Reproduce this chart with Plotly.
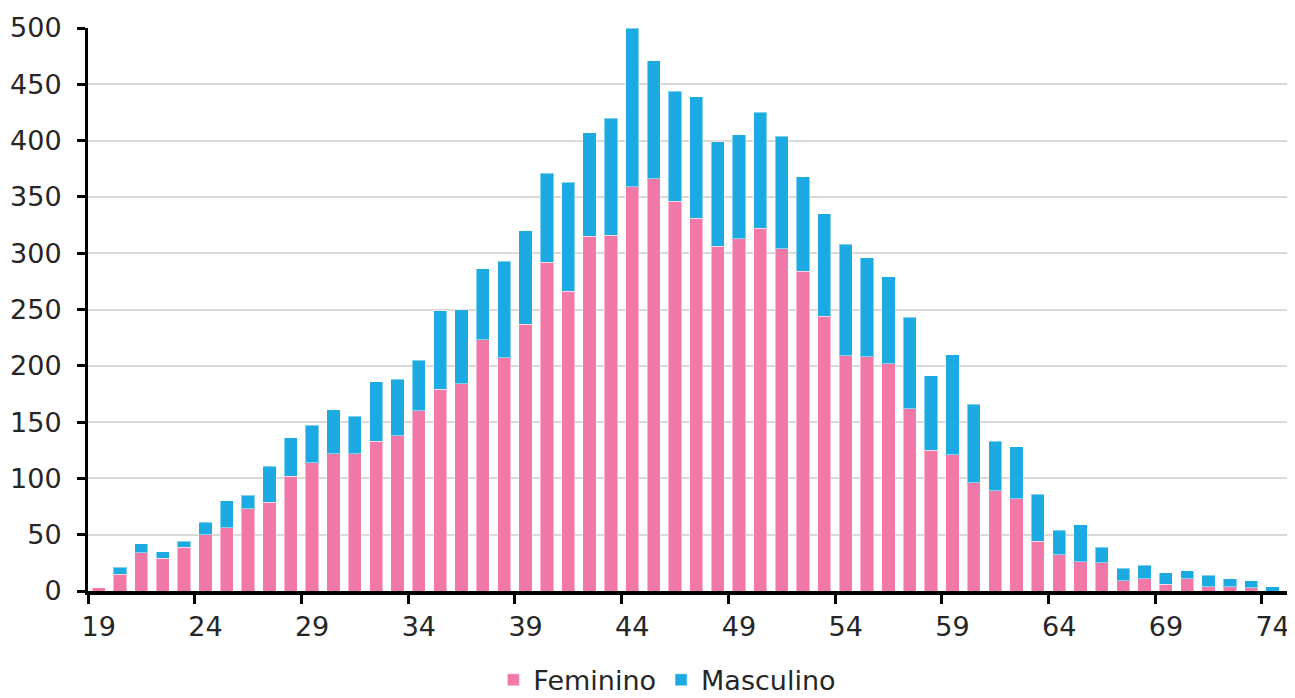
import plotly.graph_objects as go

ages = list(range(19, 76))
feminino = [3, 15, 34, 29, 39, 50, 56, 73, 79, 102,
            114, 122, 122, 133, 138, 160, 179, 184, 223, 207,
            237, 292, 266, 315, 316, 359, 366, 346, 331, 306,
            313, 322, 304, 284, 244, 209, 208, 202, 162, 125,
            121, 96, 89, 82, 44, 32, 26, 25, 9, 11,
            6, 11, 4, 4, 3, 0, 0]
masculino = [0, 6, 8, 6, 5, 11, 24, 12, 32, 34,
             33, 39, 33, 53, 50, 45, 70, 66, 63, 86,
             83, 79, 97, 92, 104, 141, 105, 98, 108, 93,
             92, 103, 100, 84, 91, 99, 88, 77, 81, 66,
             89, 70, 44, 46, 42, 22, 33, 14, 11, 12,
             10, 7, 10, 7, 6, 4, 3]
x_ticks = list(range(19, 75, 5))
y_ticks = list(range(0, 501, 50))

PINK = "#F278A7"
BLUE = "#1BAAE1"
FONT = "DejaVu Sans"
TXT = "#262626"

fig = go.Figure()
fig.add_trace(go.Bar(x=ages, y=feminino, name="Feminino", width=0.62,
                     marker=dict(color=PINK, line=dict(color="rgba(255,255,255,0.45)", width=1))))
fig.add_trace(go.Bar(x=ages, y=masculino, name="Masculino", width=0.62,
                     marker=dict(color=BLUE, line=dict(color="rgba(255,255,255,0.45)", width=1))))

# the page body adds an 8px offset; compensate in size and margins
fig.update_layout(
    width=1287, height=690,
    barmode="stack",
    plot_bgcolor="white", paper_bgcolor="white",
    margin=dict(l=80, r=0, t=20, b=107, autoexpand=False),
    font=dict(family=FONT, size=26, color=TXT),
    legend=dict(orientation="h", x=0.48, xanchor="center", y=-0.115, yanchor="top",
                font=dict(family=FONT, size=27, color=TXT),
                traceorder="normal"),
    showlegend=True,
)
fig.update_xaxes(
    range=[18.5, 75.05], automargin=False,
    tickmode="array", tickvals=x_ticks, ticktext=[str(v) for v in x_ticks],
    ticks="outside", ticklen=9, tickwidth=3, tickcolor="rgba(0,0,0,0)",
    minor=dict(tick0=18.5, dtick=5, ticks="outside", ticklen=9, tickwidth=3,
               tickcolor="black", showgrid=False),
    showline=True, linecolor="black", linewidth=4,
    showgrid=False, zeroline=False,
    tickfont=dict(family=FONT, size=27, color=TXT),
)
fig.update_yaxes(
    range=[0, 500], automargin=False,
    tickmode="array", tickvals=y_ticks,
    ticks="outside", ticklen=8, tickwidth=3, tickcolor="black",
    showline=True, linecolor="black", linewidth=3,
    showgrid=True, gridcolor="#D9D9D9", gridwidth=2,
    zeroline=False,
    ticklabelstandoff=10,
    tickfont=dict(family=FONT, size=27, color=TXT),
)

fig.write_html("out.html")
